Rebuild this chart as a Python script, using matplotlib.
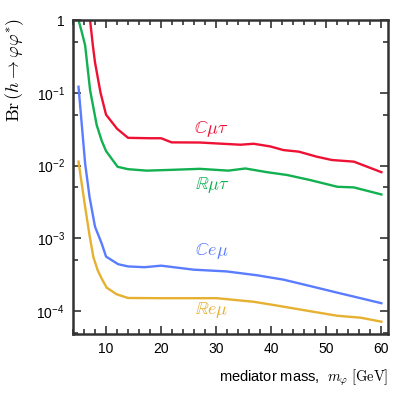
import matplotlib
matplotlib.use("Agg")
import matplotlib.pyplot as plt
from matplotlib.ticker import FixedLocator, FuncFormatter

plt.rcParams['font.family'] = ['Liberation Sans', 'DejaVu Sans']
plt.rcParams['mathtext.fontset'] = 'cm'

# --- data ---
x_cmt = [7.1, 7.6, 8.0, 9.0, 10.0, 12.0, 14.0, 18.0, 20.0, 21.9, 27.0, 34.4, 36.8, 39.8, 42.2, 45.0, 48.3, 51.0, 55.0, 60.0]
y_cmt = [1.0, 0.45, 0.26, 0.1, 0.05, 0.032, 0.024, 0.0237, 0.0237, 0.0208, 0.0207, 0.0193, 0.0199, 0.0183, 0.0163, 0.0155, 0.0132, 0.0119, 0.0113, 0.0081]

x_rmt = [5.0, 5.6, 6.2, 7.1, 8.3, 9.2, 10.0, 12.1, 14.0, 17.4, 21.6, 27.0, 32.2, 35.3, 39.2, 42.9, 47.1, 52.0, 55.0, 60.0]
y_rmt = [1.0, 0.68, 0.45, 0.109, 0.036, 0.022, 0.0158, 0.0096, 0.0089, 0.0085, 0.0087, 0.009, 0.0085, 0.0091, 0.0081, 0.0074, 0.0063, 0.0051, 0.0050, 0.0040]

x_cem = [5.0, 6.2, 7.0, 8.0, 9.2, 10.0, 12.2, 14.0, 17.0, 20.0, 25.9, 31.9, 37.4, 42.2, 47.1, 51.3, 60.0]
y_cem = [0.121, 0.0107, 0.0037, 0.00144, 0.00085, 0.00056, 0.00044, 0.00041, 0.00040, 0.00042, 0.00037, 0.00035, 0.00031, 0.00027, 0.00022, 0.000184, 0.000128]

x_rem = [5.0, 6.2, 7.0, 7.7, 8.5, 9.2, 10.1, 11.9, 14.0, 20.0, 30.1, 36.8, 40.4, 46.5, 52.0, 56.2, 60.0]
y_rem = [0.0113, 0.0027, 0.0011, 0.00055, 0.00036, 0.00028, 0.00021, 0.00017, 0.000151, 0.00015, 0.00015, 0.000134, 0.000121, 0.000101, 0.000086, 0.000081, 0.0000713]

series = [
    (x_cmt, y_cmt, '#ee1133', r'$\mathbb{C}\mu\tau$', 29.2, 0.0318),
    (x_rmt, y_rmt, '#11b050', r'$\mathbb{R}\mu\tau$', 29.2, 0.0054),
    (x_cem, y_cem, '#5a7cff', r'$\mathbb{C}e\mu$', 29.2, 0.00067),
    (x_rem, y_rem, '#e6b030', r'$\mathbb{R}e\mu$', 29.2, 0.000103),
]

xticks = [10, 20, 30, 40, 50, 60]
yticks = [1e-4, 1e-3, 1e-2, 1e-1, 1]
ytick_labels = [r'$\mathregular{10^{-4}}$', r'$\mathregular{10^{-3}}$', r'$\mathregular{10^{-2}}$',
                r'$\mathregular{10^{-1}}$', '1']

fig = plt.figure(figsize=(4.08, 3.99), dpi=100)
ax = fig.add_axes([73/408, 1-334/399, (388-73)/408, (334-20)/399])

for xs, ys, c, lab, lx, ly in series:
    ax.plot(xs, ys, color=c, lw=1.7, solid_joinstyle='round')
    ax.text(lx, ly, lab, color=c, fontsize=13, ha='center', va='center')

ax.set_yscale('log')
ax.set_xlim(4, 61.2)
ax.set_ylim(4.83e-5, 1)

ax.set_xticks(xticks)
ax.xaxis.set_minor_locator(FixedLocator([v for v in range(4, 62, 2) if v % 10 != 0]))
ax.set_yticks(yticks)
ax.set_yticklabels(ytick_labels)
ax.yaxis.set_minor_locator(FixedLocator([5e-5, 5e-4, 5e-3, 5e-2, 5e-1]))
ax.yaxis.set_minor_formatter(FuncFormatter(lambda v, p: ''))

ax.tick_params(which='both', direction='in', top=True, right=True, color='#333333',
               labelsize=10, pad=6, width=1.2)
ax.tick_params(which='major', length=6)
ax.tick_params(which='minor', length=3.5)
for s in ax.spines.values():
    s.set_linewidth(1.8)
    s.set_color('#333333')

ax.set_xlabel(r'mediator mass,  $m_\varphi\;[\mathrm{GeV}]$', fontsize=10.5, loc='right', labelpad=8)
fig.text(15/408, 1-70/399, r'$\mathrm{Br}\,(h \to \varphi\varphi^{*})$', rotation=90,
         ha='center', va='center', fontsize=13)

fig.savefig('out.png', dpi=100)
